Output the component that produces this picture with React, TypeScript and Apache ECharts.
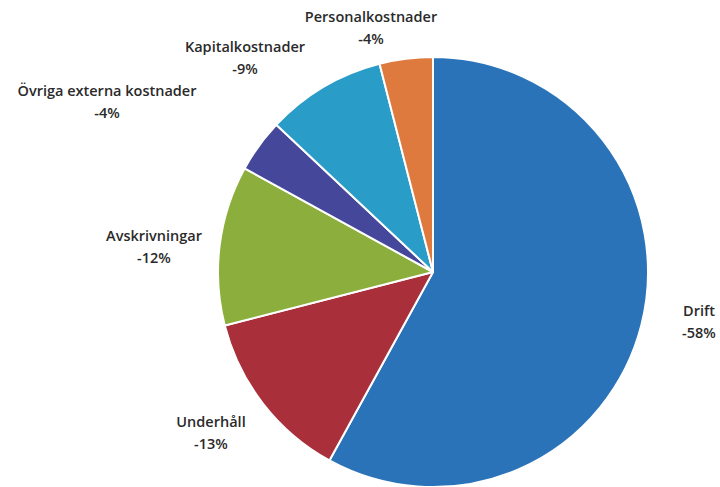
import React, { useEffect, useRef } from "react";
import * as echarts from "echarts";

const categories = [
  "Drift",
  "Underhåll",
  "Avskrivningar",
  "Övriga externa kostnader",
  "Kapitalkostnader",
  "Personalkostnader",
];
const values = [58, 13, 12, 4, 9, 4];
const colors = ["#2b73b8", "#a9303b", "#8bae3c", "#45479b", "#2a9cc8", "#df7a3e"];
// label centre positions (layout only)
const labelPos: [number, number][] = [
  [699, 321],
  [211, 432],
  [154, 246],
  [107, 101],
  [245, 57],
  [371, 27],
];

export default function App() {
  const ref = useRef<HTMLDivElement>(null);
  useEffect(() => {
    if (!ref.current) return;
    const chart = echarts.init(ref.current, undefined, { renderer: "svg" });
    chart.setOption({
      animation: false,
      backgroundColor: "#ffffff",
      series: [
        {
          type: "pie",
          center: [433, 272],
          radius: 215,
          startAngle: 90,
          clockwise: true,
          data: categories.map((name, i) => ({
            name,
            value: values[i],
            itemStyle: { color: colors[i] },
          })),
          itemStyle: { borderColor: "#ffffff", borderWidth: 2 },
          label: {
            show: true,
            position: "outside",
            formatter: (p: any) => `${p.name}\n-${p.value}%`,
            fontFamily: "Open Sans",
            fontSize: 14.5,
            fontWeight: 600,
            color: "#2a2a2a",
            lineHeight: 22,
            align: "center",
            overflow: "none",
          },
          labelLine: { show: false },
          labelLayout: (params: any) => {
            const pos = labelPos[params.dataIndex];
            return {
              x: pos[0],
              y: pos[1],
              align: "center",
              verticalAlign: "middle",
            };
          },
        },
      ],
    });
    return () => chart.dispose();
  }, []);
  return (
    <div
      ref={ref}
      style={{ position: "absolute", left: 0, top: 0, width: 720, height: 487 }}
    />
  );
}
